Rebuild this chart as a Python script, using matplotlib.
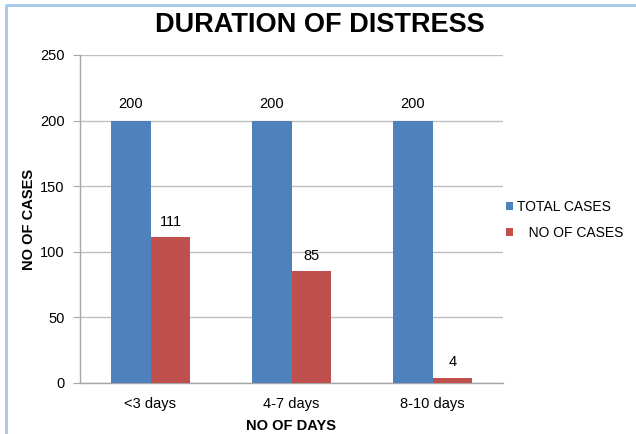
import matplotlib

matplotlib.use("Agg")
import matplotlib.pyplot as plt  # noqa: E402
import numpy as np  # noqa: E402
from matplotlib.lines import Line2D  # noqa: E402

plt.rcParams["font.family"] = ["Liberation Sans", "DejaVu Sans"]

categories = ["<3 days", "4-7 days", "8-10 days"]
total_cases = [200, 200, 200]
no_of_cases = [111, 85, 4]

BLUE = "#4F81BD"
RED = "#C0504D"
GRID = "#BFBFBF"
AXIS = "#A6A6A6"
BORDER = "#A5C8EA"
FS = 10.5

fig = plt.figure(figsize=(6.36, 4.34), dpi=100)
ax = fig.add_axes([80 / 636, 1 - 383 / 434, 423 / 636, 328 / 434])

x = np.arange(len(categories))
w = 0.283
b1 = ax.bar(x - w / 2, total_cases, w, color=BLUE, label="TOTAL CASES", zorder=3)
b2 = ax.bar(x + w / 2, no_of_cases, w, color=RED, label="   NO OF CASES", zorder=3)
ax.bar_label(b1, padding=7, fontsize=FS)
ax.bar_label(b2, padding=6, fontsize=FS)

ax.set_xlim(-0.5, len(categories) - 0.5)
ax.set_ylim(0, 250)
ax.set_yticks(range(0, 251, 50))
ax.set_xticks(x)
ax.set_xticklabels(categories)
ax.yaxis.grid(True, color=GRID, linewidth=1, zorder=0)
ax.tick_params(axis="y", length=5, color=AXIS, labelsize=FS, pad=6)
ax.tick_params(axis="x", length=0, labelsize=FS, pad=10)
for s in ("top", "right"):
    ax.spines[s].set_visible(False)
for s in ("left", "bottom"):
    ax.spines[s].set_color(AXIS)
    ax.spines[s].set_linewidth(1)

ax.set_ylabel("NO OF CASES", fontsize=FS, fontweight="bold", labelpad=3)
ax.set_xlabel("NO OF DAYS", fontsize=FS, fontweight="bold", labelpad=6)

fig.text(320 / 636, 1 - 25 / 434, "DURATION OF DISTRESS", fontsize=19.5,
         fontweight="bold", ha="center", va="center")

fig.legend(handles=[b1, b2], loc="center left", bbox_to_anchor=(493 / 636, 1 - 220 / 434),
           frameon=False, fontsize=10, handlelength=0.55, handleheight=0.55,
           handletextpad=0.25, labelspacing=0.85)

# chart frame (top and left edges)
fig.add_artist(Line2D([6 / 636, 6 / 636, 1], [0, 1 - 5 / 434, 1 - 5 / 434],
                      transform=fig.transFigure, color=BORDER, linewidth=2))

fig.savefig("out.png", dpi=100)
